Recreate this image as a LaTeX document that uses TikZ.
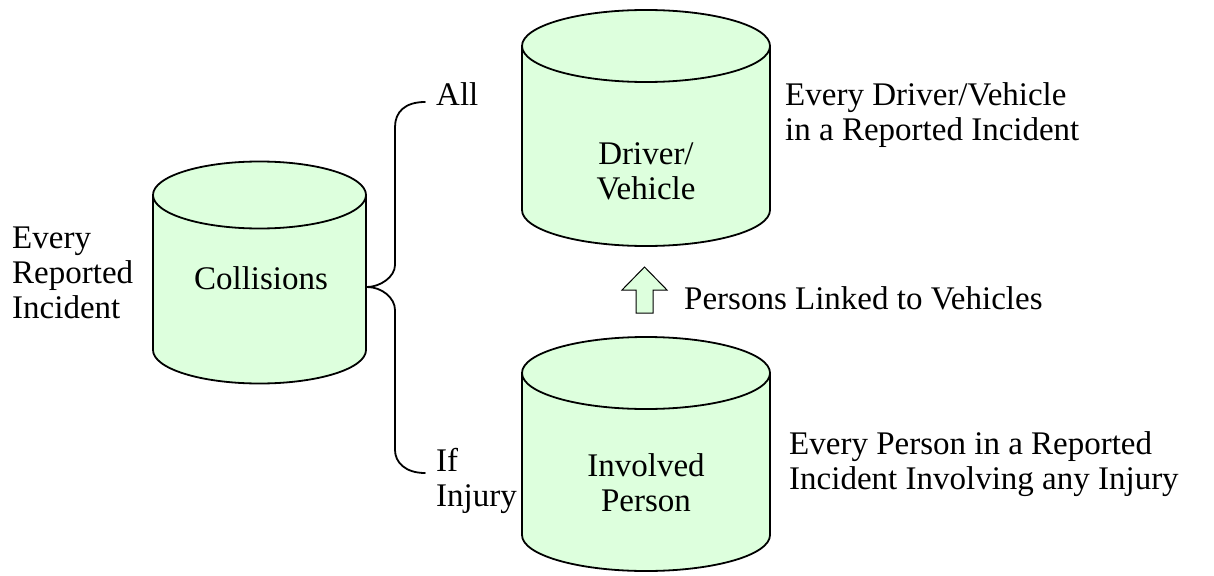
\documentclass[tikz,border=0pt]{standalone}
\usepackage{fontspec}
\setmainfont{Liberation Serif}
\definecolor{cylfill}{RGB}{221,255,221}
\newcommand\mycyl[6]{% left, right, top centre y, bottom centre y, y radius, name
  \pgfmathsetmacro\rx{(#2-#1)/2}%
  \pgfmathsetmacro\cx{(#2+#1)/2}%
  \fill[cylfill] (#1,#3) -- (#1,#4) arc[start angle=180,end angle=0,x radius=\rx,y radius=#5]
     -- (#2,#3) arc[start angle=0,end angle=-180,x radius=\rx,y radius=#5] -- cycle;
  \draw[cylline] (#1,#3) -- (#1,#4) arc[start angle=180,end angle=0,x radius=\rx,y radius=#5] -- (#2,#3);
  \draw[cylline] (\cx,#3) ellipse[x radius=\rx,y radius=#5];
  \coordinate (#6) at (\cx,{(#3+#4)/2});
}
\tikzset{
  cylline/.style={draw=black,line width=1.8pt,line join=round},
  txt/.style={inner sep=0pt,font=\fontsize{33}{35}\selectfont},
  bracket/.style={draw=black,line width=1.8pt,line cap=round},
  blockarrow/.style={draw=black,fill=cylfill,line width=1pt,line join=miter}
}
\begin{document}
\begin{tikzpicture}[x=1pt,y=-1pt]
\useasboundingbox (0,0) rectangle (1214,575);
% cylinders
\mycyl{153}{366}{195}{350}{33.5}{collcyl}
\mycyl{522}{770}{46}{210}{36}{drivcyl}
\mycyl{522}{770}{373}{535}{36}{invcyl}
% texts in cylinders
\node[txt,anchor=base] (collisions) at (261,289) {Collisions};
\node[txt,anchor=base] (driver) at (646,164) {\begin{tabular}[t]{@{}c@{}}Driver/\\Vehicle\end{tabular}};
\node[txt,anchor=base] (involved) at (646,476) {\begin{tabular}[t]{@{}c@{}}Involved\\Person\end{tabular}};
% side labels
\node[txt,anchor=base west] (everyrep) at (12,248) {\begin{tabular}[t]{@{}l@{}}Every\\Reported\\Incident\end{tabular}};
\node[txt,anchor=base west] (all) at (436,106) {All};
\node[txt,anchor=base west] (ifinj) at (436,471) {\begin{tabular}[t]{@{}l@{}}If\\Injury\end{tabular}};
\node[txt,anchor=base west] (everydriver) at (785,106) {\begin{tabular}[t]{@{}l@{}}Every Driver/Vehicle\\in a Reported Incident\end{tabular}};
\node[txt,anchor=base west] (everyperson) at (789,454) {\begin{tabular}[t]{@{}l@{}}Every Person in a Reported\\Incident Involving any Injury\end{tabular}};
\node[txt,anchor=base west] (linked) at (684,309) {Persons Linked to Vehicles};
% bracket
\coordinate (tip) at (367,287);
\coordinate (allend) at (425,102);
\coordinate (injend) at (425,473);
\draw[bracket] (allend) .. controls (405,102) and (395,112) .. (395,127) -- (395,265)
  .. controls (395,277) and (380,287) .. (tip)
  .. controls (382,287) and (395,298) .. (395,310) -- (395,450)
  .. controls (395,462) and (405,473) .. (injend);
% block arrow
\draw[blockarrow] (636,313) -- (636,290) -- (622,290) -- (644.5,267) -- (667,290) -- (653,290) -- (653,313) -- cycle;
\end{tikzpicture}
\end{document}
